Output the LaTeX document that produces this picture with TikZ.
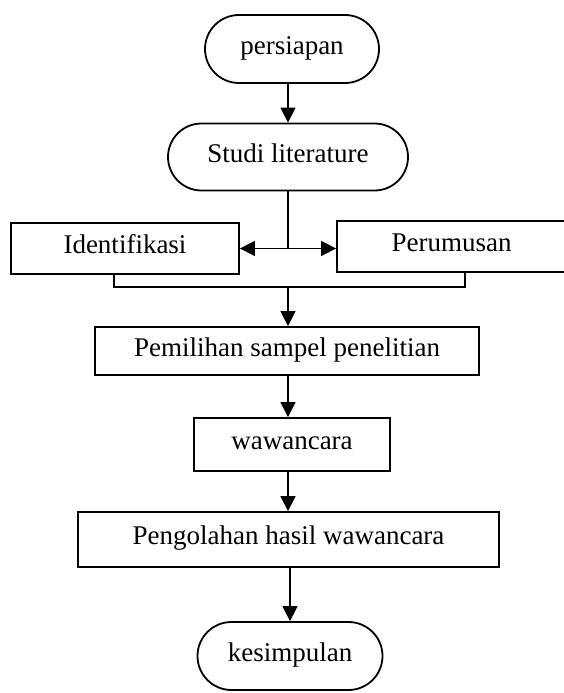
\documentclass[tikz,border=0pt]{standalone}
\usepackage{fontspec}
\setmainfont{Liberation Serif}
\usetikzlibrary{shapes.misc,arrows.meta}
\begin{document}
\begin{tikzpicture}[x=1pt,y=-1pt,
  font=\fontsize{27}{30}\selectfont,
  term/.style={rounded rectangle,draw,line width=1.8pt,inner sep=0pt,text height=1.1em,text depth=0pt},
  proc/.style={rectangle,draw,line width=1.8pt,inner sep=0pt,text height=1.05em,text depth=0pt},
  flow/.style={line width=1.5pt,-{Triangle[length=15pt,width=15pt]}},
  link/.style={line width=1.5pt}]
\useasboundingbox (0,0) rectangle (564,693);
\def\jy{287};
\node[term,minimum width=174pt,minimum height=68pt] (prep) at (292,49) {persiapan};
\node[term,minimum width=240pt,minimum height=67pt] (studi) at (288,157) {Studi literature};
\node[proc,minimum width=228pt,minimum height=51pt] (idf) at (125,248.5) {Identifikasi};
\node[proc,minimum width=229pt,minimum height=51pt] (per) at (451.5,246.5) {Perumusan};
\node[proc,minimum width=384pt,minimum height=48pt] (pem) at (287,351) {Pemilihan sampel penelitian};
\node[proc,minimum width=196pt,minimum height=53pt] (waw) at (292,444.5) {wawancara};
\node[proc,minimum width=421pt,minimum height=55pt] (peng) at (288.5,539.5) {Pengolahan hasil wawancara};
\node[term,minimum width=185pt,minimum height=68pt] (kes) at (290,656) {kesimpulan};
% split to Identifikasi / Perumusan
\coordinate (split) at (studi.south |- idf.east);
\coordinate (jl) at (114,\jy);
\coordinate (jr) at (465,\jy);
\draw[flow] (studi.north |- prep.south) -- (studi.north);
\draw[link] (studi.south) -- (split);
\draw[flow] (split) -- (idf.east);
\draw[flow] (split) -- (split -| per.west);
% join back
\draw[link] (jl |- idf.south) -- (jl) -- (jr) -- (jr |- per.south);
\draw[flow] (studi.south |- jl) -- (studi.south |- pem.north);
\draw[flow] (studi.south |- pem.south) -- (studi.south |- waw.north);
\draw[flow] (studi.south |- waw.south) -- (studi.south |- peng.north);
\draw[flow] (peng.south -| kes.north) -- (kes.north);
\end{tikzpicture}
\end{document}
